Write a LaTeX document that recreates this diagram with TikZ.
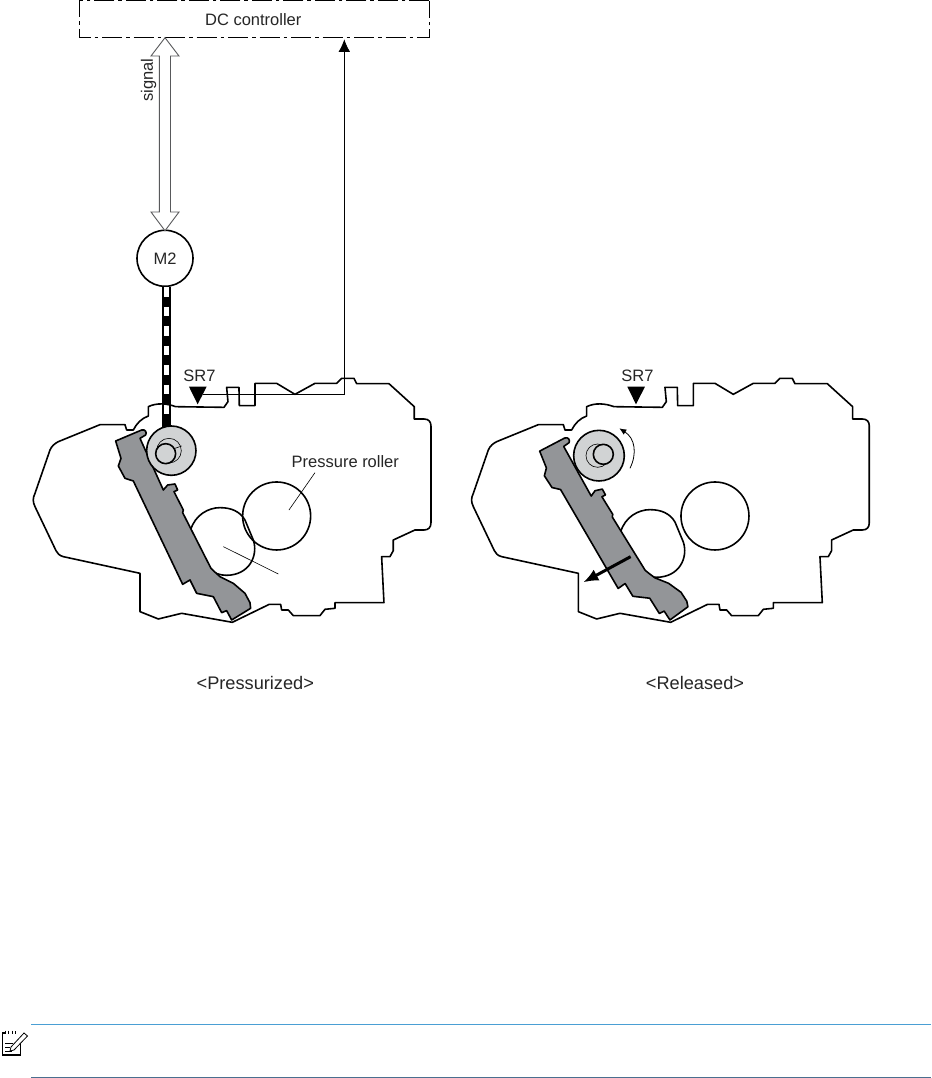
\documentclass[tikz,border=0pt]{standalone}
\usepackage{fontspec}
\setmainfont{Liberation Sans}
\usetikzlibrary{arrows.meta}
\definecolor{levergray}{HTML}{939598}
\definecolor{geargray}{HTML}{D1D3D4}
\definecolor{noteblue}{HTML}{4A9FD4}
\definecolor{ruleblue}{HTML}{4A6F8F}
\definecolor{hollowgray}{HTML}{58595B}
% all path data in "zoom" units: z=(x,y) -> px (x/3, 360+y/3)
\newcommand{\outlinepath}{
 (527,140) -- (672,142) -- (684,125) -- (680,82) -- (717,82) -- (718,137) -- (765,137) -- (765,70) -- (830,70) -- (885,103) -- (945,70) -- (1010,70) -- (1025,55) -- (1062,55) -- (1070,71) -- (1167,71) -- (1243,140) -- (1243,177) -- (1272,177) .. controls (1286,177) and (1293,185) .. (1293,198) -- (1293,488) .. controls (1293,502) and (1286,510) .. (1272,510) -- (1245,510) -- (1180,540) -- (1180,572) -- (1170,590) -- (1145,590) -- (1152,728) -- (1005,728) -- (1005,745) -- (975,748) -- (960,767) -- (880,767) -- (865,750) -- (845,750) -- (842,733) -- (808,733) -- (697,787) -- (545,760) -- (475,777) -- (420,755) -- (420,640) -- (190,590) .. controls (178,587) and (172,580) .. (168,572) -- (105,440) .. controls (98,425) and (98,415) .. (105,400) -- (150,270) .. controls (155,258) and (165,250) .. (175,245) -- (300,194) -- (375,194) -- (380,210) -- (400,210) .. controls (410,190) and (425,175) .. (445,168) -- (445,140) .. controls (470,128) and (500,130) .. (527,140) -- cycle}
\newcommand{\leverpath}{
 (347,243) -- (425,210) .. controls (437,207) and (441,218) .. (437,225) -- (420,235) -- (490,390) -- (503,375) -- (525,372) -- (533,390) -- (522,395) -- (550,450) -- (548,458) -- (633,625) -- (640,632) -- (660,650) -- (700,670) -- (735,700) -- (750,728) -- (752,745) -- (695,780) -- (680,752) -- (665,758) -- (640,710) -- (590,700) -- (570,660) -- (548,673) -- (400,363) -- (375,355) -- (355,318) -- (363,295) -- cycle}
\newcommand{\fixpath}{
 (572,510) .. controls (585,465) and (625,443) .. (660,443) .. controls (695,443) and (720,455) .. (735,480) -- (760,540) .. controls (775,585) and (750,645) .. (680,646) .. controls (640,646) and (610,620) .. (590,580) -- cycle}
\tikzset{
  zoomed/.style={x=0.3333pt,y=-0.3333pt,shift={(0pt,-360pt)}},
  thickline/.style={line width=1.6pt,line join=round,draw=black},
  thinline/.style={line width=0.6pt,draw=black},
  lbl/.style={font=\fontsize{16.5}{19}\selectfont,inner sep=0pt,text=black!85},
  captiontext/.style={font=\fontsize{18.2}{21}\selectfont,inner sep=0pt,text=black!85},
  hollow/.style={draw=hollowgray,fill=white,line width=0.9pt,line join=miter},
}
\begin{document}
\begin{tikzpicture}[x=1pt,y=-1pt]
\useasboundingbox (0,0) rectangle (931,1078);
\fill[white] (0,0) rectangle (931,1078);
% DC controller
\node[lbl] (dc) at (253.3,19.5) {DC controller};
\draw[line width=1pt,dash pattern=on 20pt off 4pt on 3.5pt off 4pt] (429.3,0.7) -- (79.3,0.7) -- (79.3,37.3) -- (429.3,37.3) -- cycle;
% M2
\node[circle,draw=black,line width=1.6pt,minimum size=56pt,inner sep=0pt,lbl] (m2) at (165,258.3) {M2};
% belt
\coordinate (beltTop) at (166.2,286.5);
\coordinate (beltBot) at (166.2,426.5);
\draw[line width=9pt,draw=black] (beltTop) -- (beltBot);
\draw[line width=5.3pt,draw=white,dash pattern=on 9.3pt off 10.2pt] (166.7,287.3) -- (166.7,414);
% signal arrow
\coordinate (sigT) at (165,37.7);
\coordinate (sigB) at (165,230.7);
\draw[hollow] (sigT) -- (179,56) -- (170.5,56) -- (170.5,212) -- (179,212) -- (sigB) -- (151,212) -- (159.3,212) -- (159.3,56) -- (151,56) -- cycle;
\node[lbl,rotate=90] (sig) at (148.5,80) {signal};
% left mechanism
\begin{scope}[zoomed]
\draw[thickline] \fixpath;
\draw[thickline] \outlinepath;
\draw[thickline] (830,468) circle[radius=102];
\draw[thickline,fill=levergray] \leverpath;
\draw[thickline,fill=geargray] (514,272) circle[radius=74];
\draw[thinline] (507,272) circle[radius=37];
\draw[thickline,fill=geargray] (497,281) circle[radius=30];
\draw[thinline] (525,265) -- (545,258);
\draw[thinline] (670,560) -- (835,642);
\draw[thinline] (945,338) -- (867,450);
\fill[black] (567,80) -- (620,80) -- (593,133) -- cycle;
\end{scope}
\node[lbl] (sr) at (199.5,376) {SR7};
\node[lbl] (pr) at (345.3,461.5) {Pressure roller};
\coordinate (snsA) at (203,394);
\coordinate (snsB) at (344.3,394);
\coordinate (snsC) at (344.3,39.3);
\draw[line width=0.8pt,-{Latex[length=12.5pt,width=11.5pt]}] (snsA) -- (snsB) -- (snsC);
\node[captiontext] (lp) at (255.3,682.5) {<Pressurized>};
% right mechanism
\begin{scope}[shift={(438.33pt,0pt)}]
\begin{scope}[zoomed]
\begin{scope}[shift={(-25,6)}]
\draw[thickline] \fixpath;
\end{scope}
\draw[thickline] \outlinepath;
\draw[thickline] (830,468) circle[radius=102];
\begin{scope}[rotate around={4.7:(695,782)}]
\draw[thickline,fill=levergray] \leverpath;
\end{scope}
\draw[thickline,fill=geargray] (482,287) circle[radius=76];
\draw[thinline] (478,287) circle[radius=35];
\draw[thickline,fill=geargray] (495,283) circle[radius=30];
\fill[black] (567,80) -- (620,80) -- (593,133) -- cycle;
\draw[line width=0.8pt,-{Latex[length=7pt,width=6pt]}] (575,325) .. controls (597,280) and (590,235) .. (543,205);
\draw[line width=3pt,-{Latex[length=15pt,width=12.5pt]}] (577,590) -- (435,667);
\end{scope}
\end{scope}
\node[lbl] (sr2) at (637.5,376) {SR7};
\node[captiontext] (lr) at (695,682.5) {<Released>};
% note
\coordinate (n1) at (31,1024.3);
\coordinate (n2) at (931,1024.3);
\coordinate (n3) at (31,1077.4);
\coordinate (n4) at (931,1077.4);
\draw[line width=0.8pt,draw=noteblue] (n1) -- (n2);
\draw[line width=0.8pt,draw=ruleblue] (n3) -- (n4);
% icon
\draw[line width=1.3pt] (5,1033) -- (2.5,1033) -- (2.5,1055) -- (20.5,1055) -- (20.5,1042);
\draw[line width=0.8pt] (5,1030.5) -- (5,1034) (8.5,1030.5) -- (8.5,1034) (12,1030.5) -- (12,1034) (15.5,1031) -- (15.5,1034);
\draw[line width=0.8pt,fill=white] (11,1047) -- (24,1033) -- (27.5,1036) -- (14,1050) -- (10,1051) -- cycle;
\draw[line width=0.8pt] (5,1043) -- (13,1043) (5,1047) -- (10,1047) (5,1051) -- (12,1051);
\end{tikzpicture}
\end{document}
